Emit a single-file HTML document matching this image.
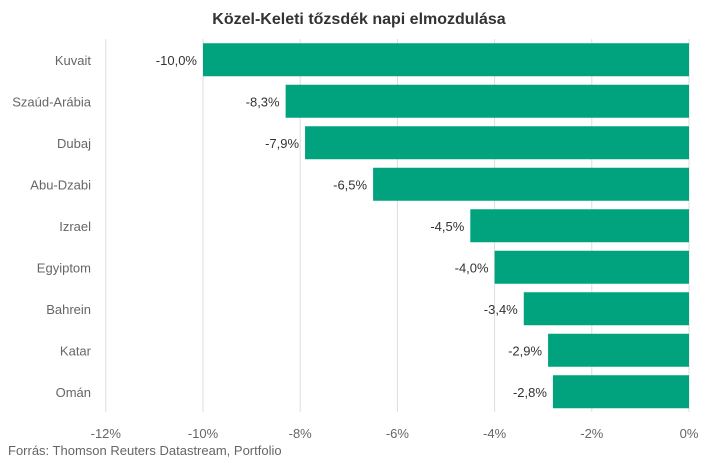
<!DOCTYPE html>
<html><head><meta charset="utf-8"><style>
body{margin:0;background:#fff;font-family:"Liberation Sans",sans-serif;}
</style></head><body>
<svg width="718" height="460" xmlns="http://www.w3.org/2000/svg" id="c" font-family="Liberation Sans, sans-serif">
<text x="359" y="24" text-anchor="middle" font-size="16" font-weight="bold" fill="#333">Közel-Keleti tőzsdék napi elmozdulása</text>
<text x="8" y="455" font-size="13" fill="#666">Forrás: Thomson Reuters Datastream, Portfolio</text>
<g id="grid"></g><g id="bars"></g><g id="labels"></g>
</svg>
<script>
const categories=["Kuvait","Szaúd-Arábia","Dubaj","Abu-Dzabi","Izrael","Egyiptom","Bahrein","Katar","Omán"];
const values=[-10.0,-8.3,-7.9,-6.5,-4.5,-4.0,-3.4,-2.9,-2.8];
const ticks=[-12,-10,-8,-6,-4,-2,0];
const svgNs="http://www.w3.org/2000/svg";
const x0=689,pxPer=48.6,plotTop=39,rowH=41.5,barH=33;
const xs=v=>x0+v*pxPer;
const ys=i=>plotTop+i*rowH+(rowH-barH)/2;
function mk(t,a,p){const e=document.createElementNS(svgNs,t);for(const k in a)e.setAttribute(k,a[k]);p.appendChild(e);return e;}
const g=document.getElementById('grid'),b=document.getElementById('bars'),l=document.getElementById('labels');
ticks.forEach(t=>{
 const ln=mk('line',{x1:xs(t),x2:xs(t),y1:plotTop,y2:412,stroke:'#ddd','stroke-width':1},g);
 
 
 const tx=mk('text',{x:xs(t),y:438,'text-anchor':'middle','font-size':13,fill:'#666'},g);
 tx.textContent=t+'%';
 
 
});
categories.forEach((c,i)=>{
 const v=values[i],y=ys(i);
 const r=mk('rect',{x:xs(v),y:y,width:xs(0)-xs(v),height:barH,fill:'#00a37d'},b);
 
 
 const c1=mk('text',{x:91,y:y+barH/2+5,'text-anchor':'end','font-size':13,fill:'#666'},l);
 c1.textContent=c;
 
 
 const v1=mk('text',{x:xs(v)-6,y:y+barH/2+5,'text-anchor':'end','font-size':13,fill:'#333'},l);
 v1.textContent=v.toFixed(1).replace('.',',')+'%';
 
 
});
</script>
</body></html>
